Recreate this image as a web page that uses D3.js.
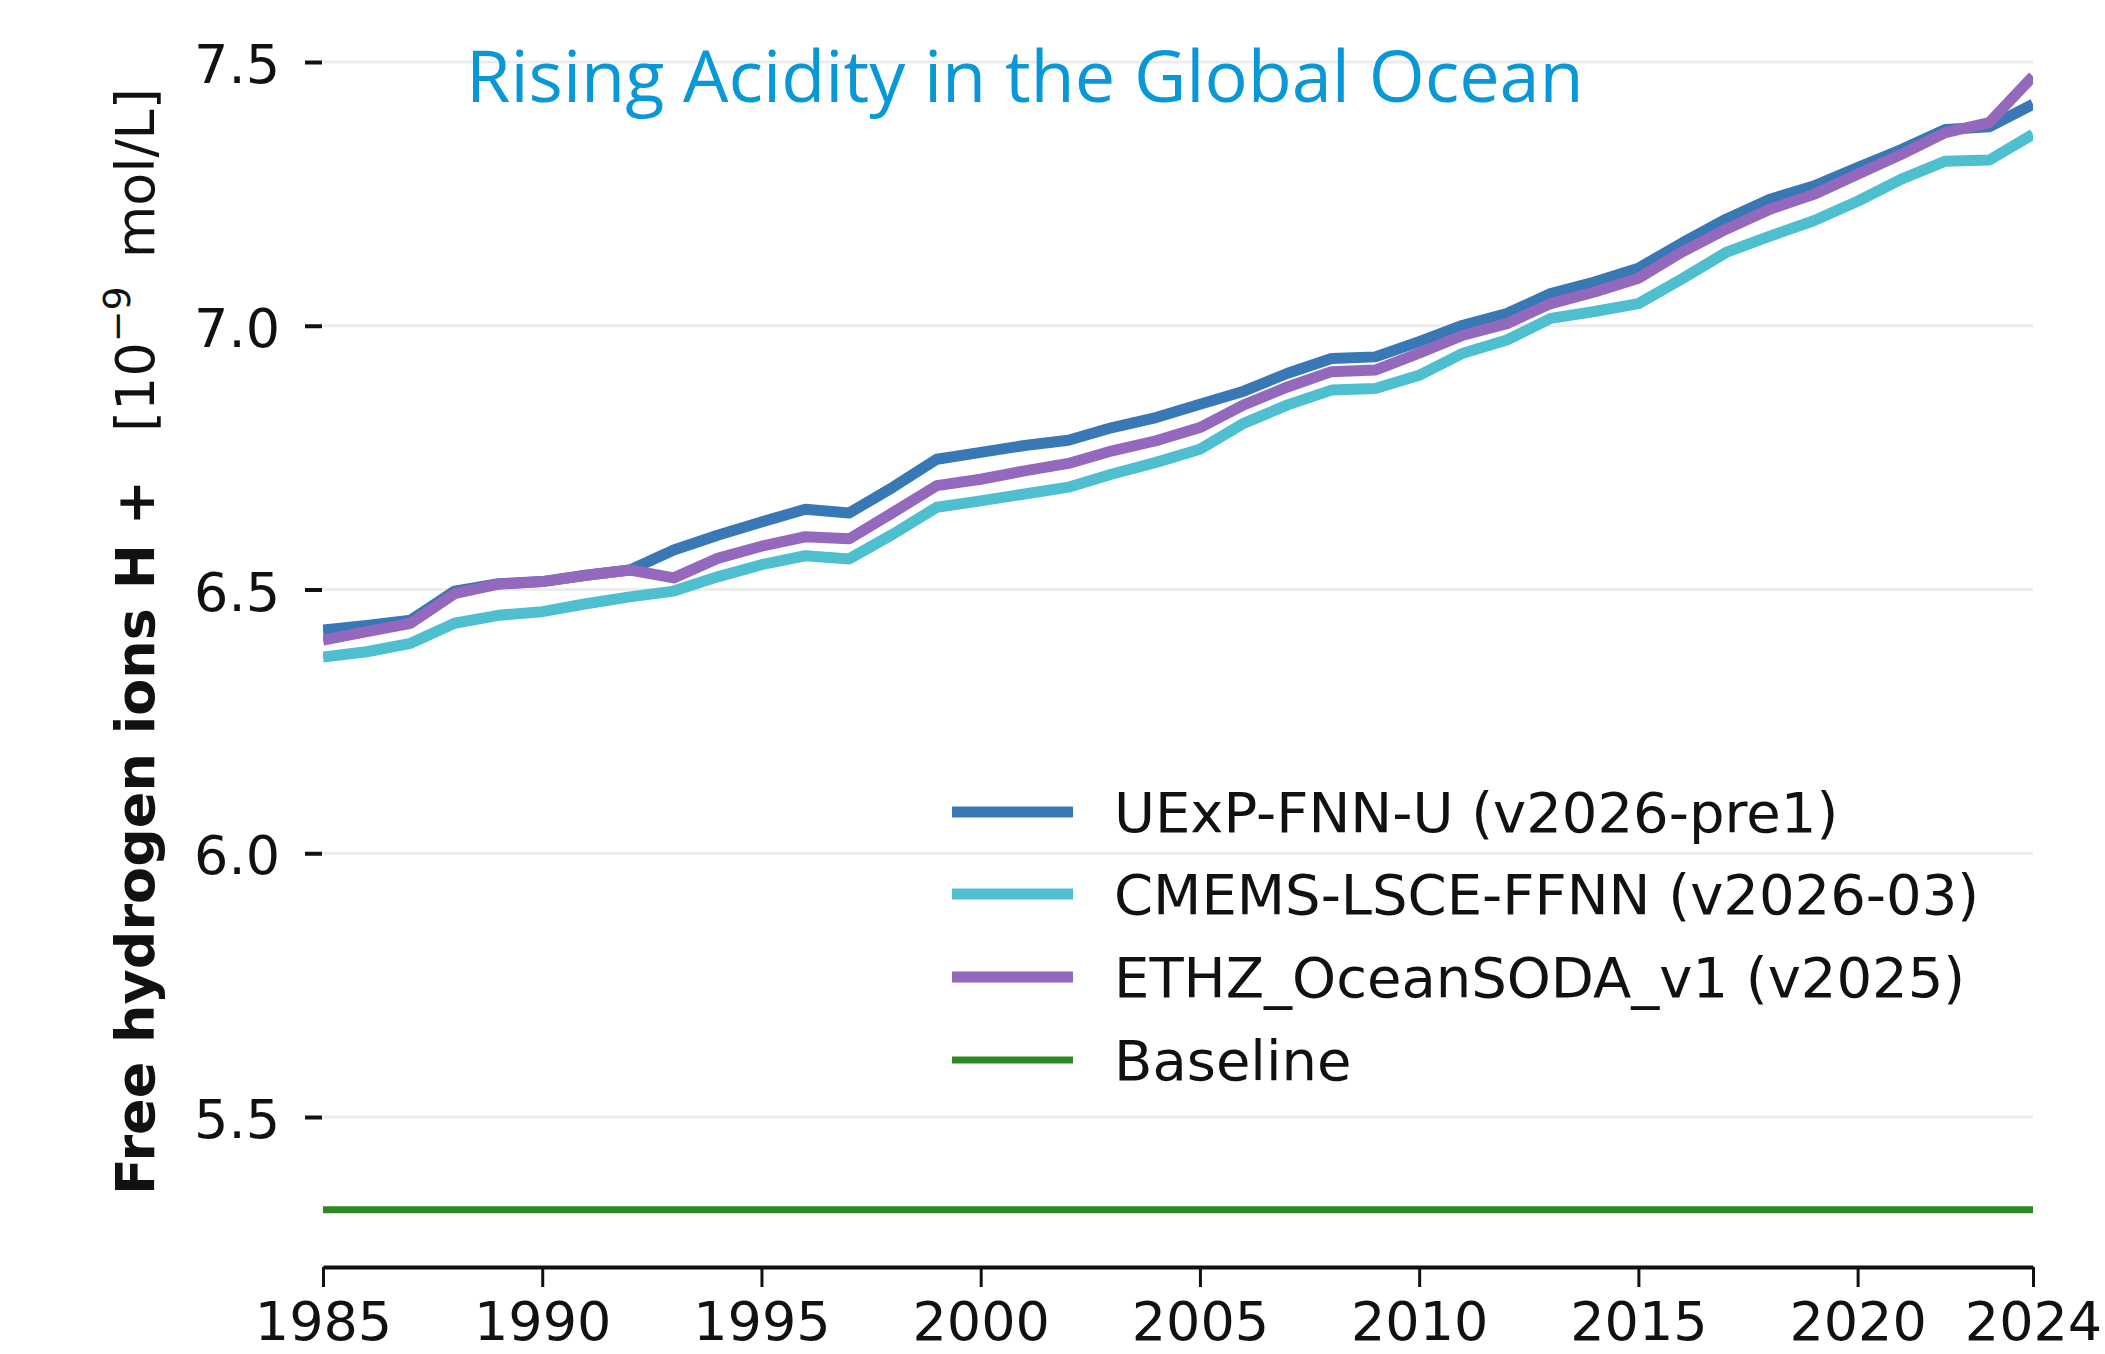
<!DOCTYPE html>
<html>
<head>
<meta charset="utf-8">
<script src="https://cdn.jsdelivr.net/npm/d3@7"></script>
<style>
  html, body { margin: 0; padding: 0; background: #ffffff; }
  svg { display: block; }
</style>
</head>
<body>
<svg id="chart" width="2105" height="1354"></svg>
<script>
// ---------------- DATA ----------------
const years = [1985, 1986, 1987, 1988, 1989, 1990, 1991, 1992, 1993, 1994,
               1995, 1996, 1997, 1998, 1999, 2000, 2001, 2002, 2003, 2004,
               2005, 2006, 2007, 2008, 2009, 2010, 2011, 2012, 2013, 2014,
               2015, 2016, 2017, 2018, 2019, 2020, 2021, 2022, 2023, 2024];

const uexpValues = [6.423, 6.432, 6.442, 6.497, 6.511, 6.515, 6.527, 6.537, 6.575, 6.603,
                    6.628, 6.652, 6.645, 6.694, 6.747, 6.760, 6.773, 6.783, 6.807, 6.826,
                    6.851, 6.876, 6.910, 6.938, 6.941, 6.970, 7.001, 7.023, 7.061, 7.083,
                    7.109, 7.157, 7.202, 7.240, 7.265, 7.300, 7.334, 7.372, 7.377, 7.420];

const cmemsValues = [6.372, 6.382, 6.398, 6.436, 6.451, 6.458, 6.473, 6.486, 6.497, 6.524,
                     6.547, 6.564, 6.558, 6.605, 6.656, 6.668, 6.681, 6.694, 6.719, 6.741,
                     6.766, 6.815, 6.850, 6.878, 6.881, 6.906, 6.948, 6.973, 7.014, 7.027,
                     7.042, 7.089, 7.139, 7.170, 7.199, 7.236, 7.278, 7.312, 7.314, 7.363];

const ethzValues = [6.404, 6.420, 6.436, 6.492, 6.510, 6.515, 6.527, 6.537, 6.522, 6.559,
                    6.582, 6.600, 6.596, 6.646, 6.697, 6.709, 6.725, 6.739, 6.763, 6.782,
                    6.807, 6.850, 6.884, 6.913, 6.916, 6.948, 6.982, 7.004, 7.042, 7.064,
                    7.090, 7.140, 7.183, 7.221, 7.249, 7.287, 7.325, 7.366, 7.385, 7.473];

const baselineValue = 5.324;

const seriesNames = ["UExP-FNN-U (v2026-pre1)", "CMEMS-LSCE-FFNN (v2026-03)",
                     "ETHZ_OceanSODA_v1 (v2025)", "Baseline"];
const seriesColors = ["#3778b5", "#4dbfcf", "#9368bd", "#2b8a21"];

const xTickValues = [1985, 1990, 1995, 2000, 2005, 2010, 2015, 2020, 2024];
const yTickValues = [5.5, 6.0, 6.5, 7.0, 7.5];

const titleText = "Rising Acidity in the Global Ocean";
const yLabelBold = "Free hydrogen ions H +";

// ---------------- LAYOUT ----------------
const svg = d3.select("#chart");
const plotLeft = 323, plotRight = 2033, plotBottom = 1267, plotTop = 40;

const x = d3.scaleLinear().domain([1985, 2024]).range([plotLeft, plotRight]);
const y = d3.scaleLinear().domain([5.5, 7.5]).range([1117, 62]);

const tickFont = "'DejaVu Sans', sans-serif";

// clip
svg.append("defs").append("clipPath").attr("id", "plotclip")
  .append("rect").attr("x", plotLeft).attr("y", plotTop)
  .attr("width", plotRight - plotLeft).attr("height", plotBottom - plotTop);

// gridlines
svg.append("g").selectAll("line").data(yTickValues).join("line")
  .attr("x1", plotLeft).attr("x2", plotRight)
  .attr("y1", d => y(d)).attr("y2", d => y(d))
  .attr("stroke", "#ececec").attr("stroke-width", 3);

// y axis (ticks + labels, no spine)
const yAxis = d3.axisLeft(y).tickValues(yTickValues).tickFormat(d3.format(".1f"))
  .tickSize(17).tickPadding(25);
const gy = svg.append("g").attr("transform", `translate(${plotLeft - 1},0)`).call(yAxis);
gy.select(".domain").remove();
gy.selectAll(".tick line").attr("stroke", "#111").attr("stroke-width", 4);
gy.selectAll(".tick text").attr("font-family", tickFont).attr("font-size", 54)
  .attr("fill", "#111").attr("dy", "0.38em");

// x axis
const xAxis = d3.axisBottom(x).tickValues(xTickValues).tickFormat(d3.format("d"))
  .tickSize(20).tickPadding(15).tickSizeOuter(0);
const gx = svg.append("g").attr("transform", `translate(0,${plotBottom})`).call(xAxis);
gx.select(".domain").attr("stroke", "#111").attr("stroke-width", 4);
gx.selectAll(".tick line").attr("stroke", "#111").attr("stroke-width", 3);
gx.selectAll(".tick text").attr("font-family", tickFont).attr("font-size", 54)
  .attr("fill", "#111").attr("dy", "0.71em");

// lines
const lineGen = d3.line().x((d, i) => x(years[i])).y(d => y(d));
const lines = svg.append("g").attr("clip-path", "url(#plotclip)");
const dataSets = [uexpValues, cmemsValues, ethzValues];
dataSets.forEach((vals, k) => {
  lines.append("path").datum(vals)
    .attr("d", lineGen)
    .attr("fill", "none")
    .attr("stroke", seriesColors[k])
    .attr("stroke-width", 11)
    .attr("stroke-linejoin", "round")
    .attr("stroke-linecap", "butt");
});
lines.append("line")
  .attr("x1", x(years[0])).attr("x2", x(years[years.length - 1]))
  .attr("y1", y(baselineValue)).attr("y2", y(baselineValue))
  .attr("stroke", seriesColors[3]).attr("stroke-width", 7);

// legend
const legendRows = [812, 894, 977, 1060];
const legend = svg.append("g");
seriesNames.forEach((name, k) => {
  legend.append("line")
    .attr("x1", 952).attr("x2", 1073)
    .attr("y1", legendRows[k]).attr("y2", legendRows[k])
    .attr("stroke", seriesColors[k]).attr("stroke-width", k === 3 ? 7 : 11);
  legend.append("text")
    .attr("x", 1114).attr("y", legendRows[k] + 20)
    .attr("font-family", tickFont).attr("font-size", 56).attr("fill", "#111")
    .text(name);
});

// y-axis label
svg.append("text")
  .attr("transform", "translate(154,1195) rotate(-90)")
  .attr("font-family", tickFont).attr("font-weight", "bold")
  .attr("font-size", 54).attr("fill", "#111")
  .text(yLabelBold);

const unitLabel = svg.append("text")
  .attr("transform", "translate(154,432) rotate(-90)")
  .attr("font-family", tickFont).attr("font-size", 54).attr("fill", "#111");
unitLabel.append("tspan").text("[10");
unitLabel.append("tspan").attr("font-size", 38).attr("dy", -24).text("\u22129");
unitLabel.append("tspan").attr("dy", 24).text("\u2009 mol/L]");

// title
svg.append("text")
  .attr("x", 466).attr("y", 102)
  .attr("font-family", "'Open Sans', sans-serif")
  .attr("font-size", 72).attr("fill", "#0898d7")
  .text(titleText);
</script>
</body>
</html>
